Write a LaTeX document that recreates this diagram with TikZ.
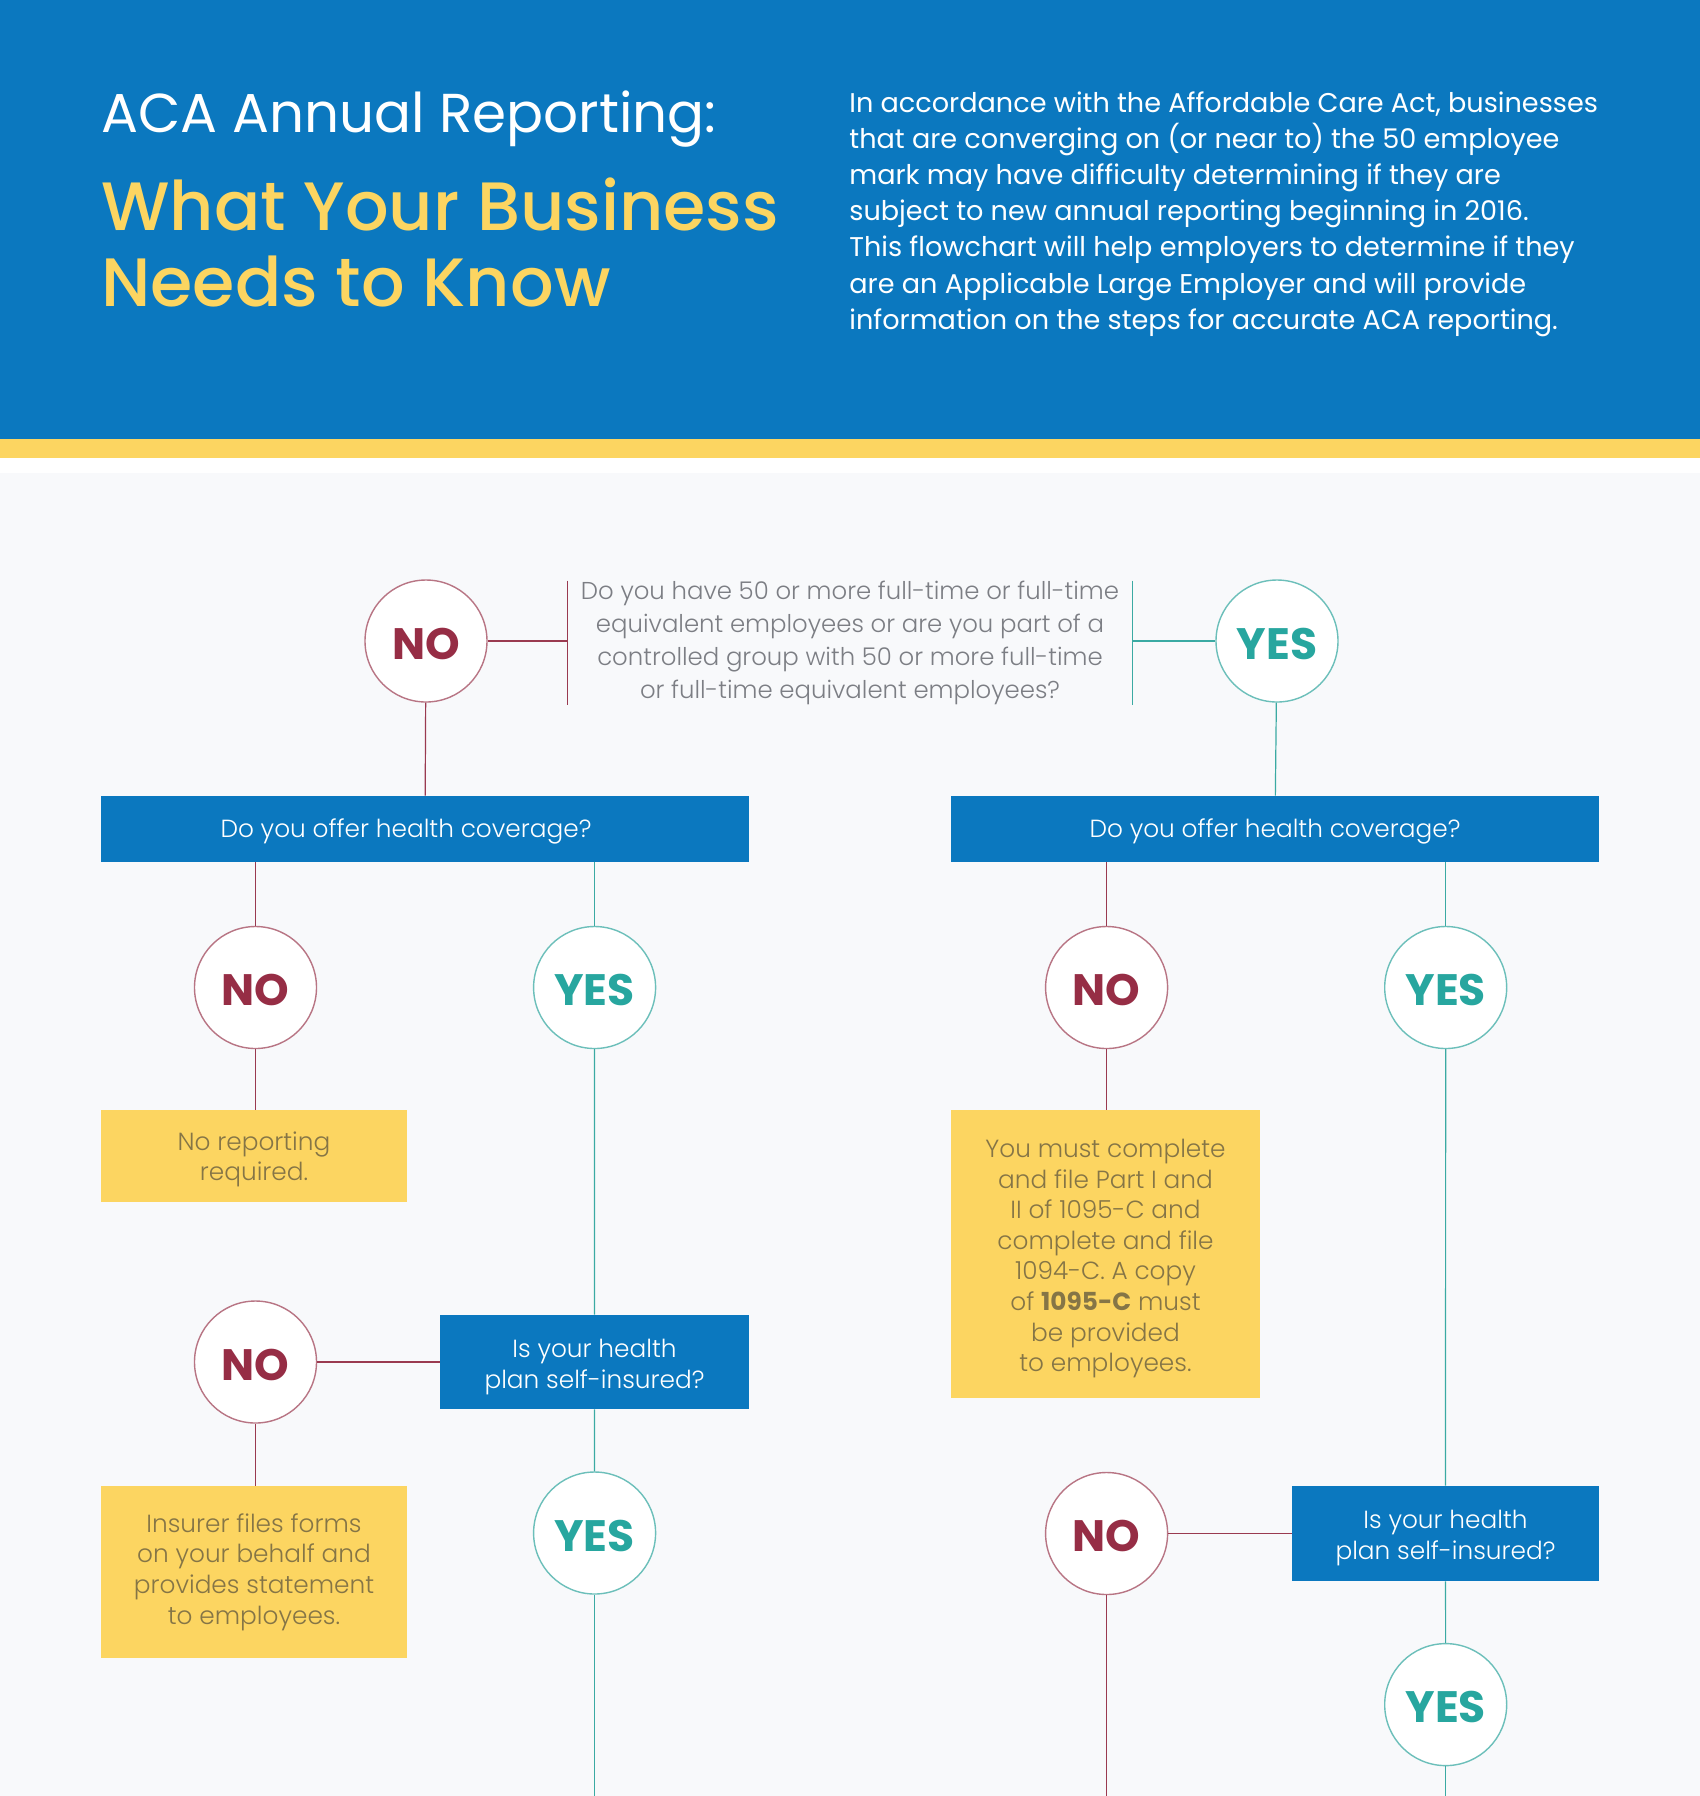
\documentclass[tikz,border=0pt]{standalone}
\usepackage{fontspec}
\setmainfont{Poppins}
\newfontfamily\lightfont{Poppins Light}
\newfontfamily\medfont{Poppins Medium}
\usetikzlibrary{positioning}
\definecolor{acablue}{HTML}{0B78BF}
\definecolor{acayellow}{HTML}{FCD561}
\definecolor{noline}{HTML}{9A3A50}
\definecolor{notext}{HTML}{962D45}
\definecolor{yesline}{HTML}{3BAAA3}
\definecolor{yestext}{HTML}{27A69F}
\definecolor{qgrey}{HTML}{7C7E84}
\definecolor{boxtext}{HTML}{857546}
\definecolor{pagebg}{HTML}{F8F9FB}

\tikzset{
  answer/.style={circle, fill=white, line width=0.7pt, minimum size=61pt, inner sep=0pt,
    text height=18.3pt, text depth=0pt, font=\fontsize{22}{22}\selectfont\bfseries},
  nocirc/.style={answer, draw=noline!70, text=notext},
  yescirc/.style={answer, draw=yesline!75, text=yestext},
  nolink/.style={draw=noline, line width=0.6pt},
  yeslink/.style={draw=yesline, line width=0.6pt},
  bluebox/.style={fill=acablue, inner sep=0pt},
  bluetext/.style={text=white, inner sep=0pt, align=center, yshift=-2.3pt,
    font=\lightfont\fontsize{12.4}{15.5}\selectfont},
  resultbox/.style={fill=acayellow, inner sep=0pt},
  resulttext/.style={text=boxtext, inner sep=0pt, align=center,
    font=\lightfont\fontsize{12.4}{15.3}\selectfont},
}

\begin{document}
\begin{tikzpicture}[x=0.5pt, y=-0.5pt]
  \useasboundingbox (0,0) rectangle (1700,1796);
  \fill[acablue] (0,0) rectangle (1700,439);
  \fill[acayellow] (0,439) rectangle (1700,458);
  \fill[white] (0,458) rectangle (1700,473);
  \fill[pagebg] (0,473) rectangle (1700,1796);

  % header
  \node[anchor=base west, inner sep=0pt, text=white, font=\fontsize{27.4}{27}\selectfont] (title) at (101,132) {ACA Annual Reporting:};
  \node[anchor=base west, inner sep=0pt, text=acayellow, font=\medfont\fontsize{34.2}{38}\selectfont] (sub1) at (101,230) {What Your Business};
  \node[anchor=base west, inner sep=0pt, text=acayellow, font=\medfont\fontsize{34.2}{38}\selectfont] (sub2) at (101,306) {Needs to Know};
  \node[anchor=north west, inner sep=0pt, text=white, align=left, font=\fontsize{13.55}{18.1}\selectfont] (intro) at (849,91)
    {In accordance with the Affordable Care Act, businesses\\
     that are converging on (or near to) the 50 employee\\
     mark may have difficulty determining if they are\\
     subject to new annual reporting beginning in 2016.\\
     This flowchart will help employers to determine if they\\
     are an Applicable Large Employer and will provide\\
     information on the steps for accurate ACA reporting.};

  % first question
  \node[minimum width=282pt, minimum height=60pt, inner sep=0pt, align=center, text=qgrey,
    font=\lightfont\fontsize{12.2}{16.5}\selectfont] (q) at (850,643)
    {Do you have 50 or more full-time or full-time\\
     equivalent employees or are you part of a\\
     controlled group with 50 or more full-time\\
     or full-time equivalent employees?};
  \draw[nolink] (q.north west) -- (q.south west);
  \draw[yeslink] (q.north east) -- (q.south east);
  \node[nocirc] (no0) at (426,641) {NO};
  \node[yescirc] (yes0) at (1277,641) {YES};
  \draw[nolink] (no0) -- (no0 -| q.west);
  \draw[yeslink] (yes0 -| q.east) -- (yes0);

  % left branch
  \node[bluebox, minimum width=324pt, minimum height=33pt,
    label={[bluetext, xshift=-9.5pt, yshift=1.2pt]center:Do you offer health coverage?}] (covL) at (425,829) {};
  \draw[nolink] (no0) -- (covL);
  \node[nocirc] (noL1) at (255.5,987.5) {NO};
  \node[yescirc] (yesL1) at (594.6,987.5) {YES};
  \draw[nolink] (covL.south -| noL1) -- (noL1);
  \draw[yeslink] (covL.south -| yesL1) -- (yesL1);
  \node[resultbox, minimum width=153pt, minimum height=46pt,
    label={[resulttext, yshift=-1.7pt]center:{No reporting\\required.}}] (noreport) at (254,1156) {};
  \draw[nolink] (noL1) -- (noreport.north -| noL1);
  \node[bluebox, minimum width=154.5pt, minimum height=47pt,
    label={[bluetext]center:{Is your health\\plan self-insured?}}] (selfL) at (594.5,1362) {};
  \draw[yeslink] (yesL1) -- (selfL);
  \node[nocirc] (noL2) at (255.5,1362) {NO};
  \draw[nolink] (selfL) -- (noL2);
  \node[resultbox, minimum width=153pt, minimum height=86pt,
    label={[resulttext]center:{Insurer files forms\\on your behalf and\\provides statement\\to employees.}}] (insurer) at (254,1572) {};
  \draw[nolink] (noL2) -- (insurer.north -| noL2);
  \node[yescirc] (yesL2) at (594.6,1533) {YES};
  \draw[yeslink] (selfL) -- (yesL2);
  \coordinate (endL) at (594.6,1796);
  \draw[yeslink] (yesL2) -- (endL);

  % right branch
  \node[bluebox, minimum width=324pt, minimum height=33pt,
    label={[bluetext, yshift=1.2pt]center:Do you offer health coverage?}] (covR) at (1275,829) {};
  \draw[yeslink] (yes0) -- (covR);
  \node[nocirc] (noR1) at (1106.6,987.5) {NO};
  \node[yescirc] (yesR1) at (1445.7,987.5) {YES};
  \draw[nolink] (covR.south -| noR1) -- (noR1);
  \draw[yeslink] (covR.south -| yesR1) -- (yesR1);
  \node[resultbox, minimum width=154.5pt, minimum height=144pt,
    label={[resulttext, yshift=-2.3pt]center:{You must complete\\and file Part I and\\II of 1095-C and\\complete and file\\1094-C. A copy\\of {\normalfont\bfseries 1095-C} must\\be provided\\to employees.}}] (file) at (1105.5,1254) {};
  \draw[nolink] (noR1) -- (file.north -| noR1);
  \node[bluebox, minimum width=153.5pt, minimum height=47.5pt,
    label={[bluetext]center:{Is your health\\plan self-insured?}}] (selfR) at (1445.5,1533.5) {};
  \draw[yeslink] (yesR1) -- (selfR);
  \node[nocirc] (noR2) at (1106.6,1533.5) {NO};
  \draw[nolink] (selfR) -- (noR2);
  \coordinate (endR1) at (1106.6,1796);
  \draw[nolink] (noR2) -- (endR1);
  \node[yescirc] (yesR2) at (1445.7,1704.6) {YES};
  \draw[yeslink] (selfR) -- (yesR2);
  \coordinate (endR2) at (1445.7,1796);
  \draw[yeslink] (yesR2) -- (endR2);
\end{tikzpicture}
\end{document}
